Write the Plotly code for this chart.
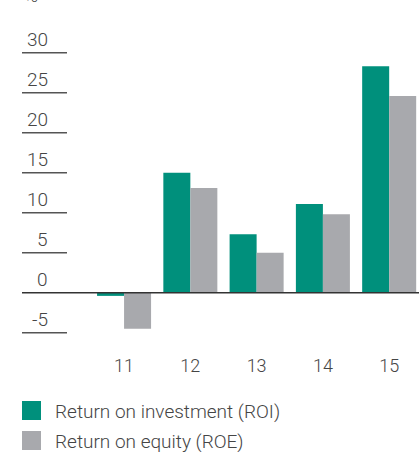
import plotly.graph_objects as go

# ---- data ----
years = ["11", "12", "13", "14", "15"]
roi = [-0.4, 15.0, 7.3, 11.1, 28.3]
roe = [-4.5, 13.1, 5.0, 9.8, 24.6]
series_names = ["Return on investment (ROI)", "Return on equity (ROE)"]
y_ticks = [30, 25, 20, 15, 10, 5, 0, -5]
unit_label = "%"

# ---- styles ----
GREEN = "#00907c"
GRAY = "#a8a9ad"
TEXT = "#454545"
FONT = "Roboto"

W, H = 419, 452
L, R, T, B = 22, 0, 40, 107
PW = W - L - R
PH = H - T - B

def px_x(px):
    return (px - L) / PW

def px_y(py):
    return (H - B - py) / PH

fig = go.Figure()
fig.add_trace(go.Bar(x=years, y=roi, name=series_names[0], marker_color=GREEN,
                     marker_line_width=0, showlegend=False))
fig.add_trace(go.Bar(x=years, y=roe, name=series_names[1], marker_color=GRAY,
                     marker_line_width=0, showlegend=False))

shapes = []
annotations = []
for v in y_ticks:
    if v == 0:
        shapes.append(dict(type="line", xref="paper", yref="y", x0=0, x1=1, y0=v, y1=v,
                           line=dict(color="#333333", width=1.6), layer="above"))
    else:
        shapes.append(dict(type="line", xref="paper", yref="y", x0=0, x1=px_x(67), y0=v, y1=v,
                           line=dict(color="#555555", width=1.6), layer="above"))
    annotations.append(dict(xref="paper", yref="y", x=px_x(50), y=v, xanchor="right",
                            yanchor="middle", yshift=13, showarrow=False, text=str(v),
                            font=dict(family=FONT, size=19, color=TEXT, weight=300)))

annotations.append(dict(xref="paper", yref="paper", x=0, y=px_y(9), xanchor="left",
                        yanchor="bottom", showarrow=False, text=unit_label,
                        font=dict(family=FONT, size=19, color=TEXT, weight=300)))

# manual legend
leg_rows = [(401, GREEN), (431, GRAY)]
for (top, col), name in zip(leg_rows, series_names):
    shapes.append(dict(type="rect", xref="paper", yref="paper", x0=px_x(22), x1=px_x(41),
                       y0=px_y(top), y1=px_y(top + 19), fillcolor=col, line_width=0))
    annotations.append(dict(xref="paper", yref="paper", x=px_x(53), y=px_y(top + 10),
                            xanchor="left", yanchor="middle", showarrow=False, text=name,
                            font=dict(family=FONT, size=19, color=TEXT, weight=300)))

fig.update_layout(
    width=W, height=H,
    margin=dict(l=L, r=R, t=T, b=B, pad=0),
    paper_bgcolor="white", plot_bgcolor="white",
    barmode="group", bargap=0.185, bargroupgap=0,
    shapes=shapes, annotations=annotations,
    font=dict(family=FONT, color=TEXT),
)
fig.update_xaxes(type="category", range=[-1.54, 4.45], showgrid=False, zeroline=False,
                 showline=False, ticks="", ticklabelstandoff=8,
                 tickfont=dict(family=FONT, size=18, color=TEXT, weight=300))
fig.update_yaxes(range=[-6.54, 31.59], showgrid=False, zeroline=False, showline=False,
                 showticklabels=False, ticks="")

fig.write_html("out.html", config={"displayModeBar": False},
               post_script="document.body.style.margin='0';")
